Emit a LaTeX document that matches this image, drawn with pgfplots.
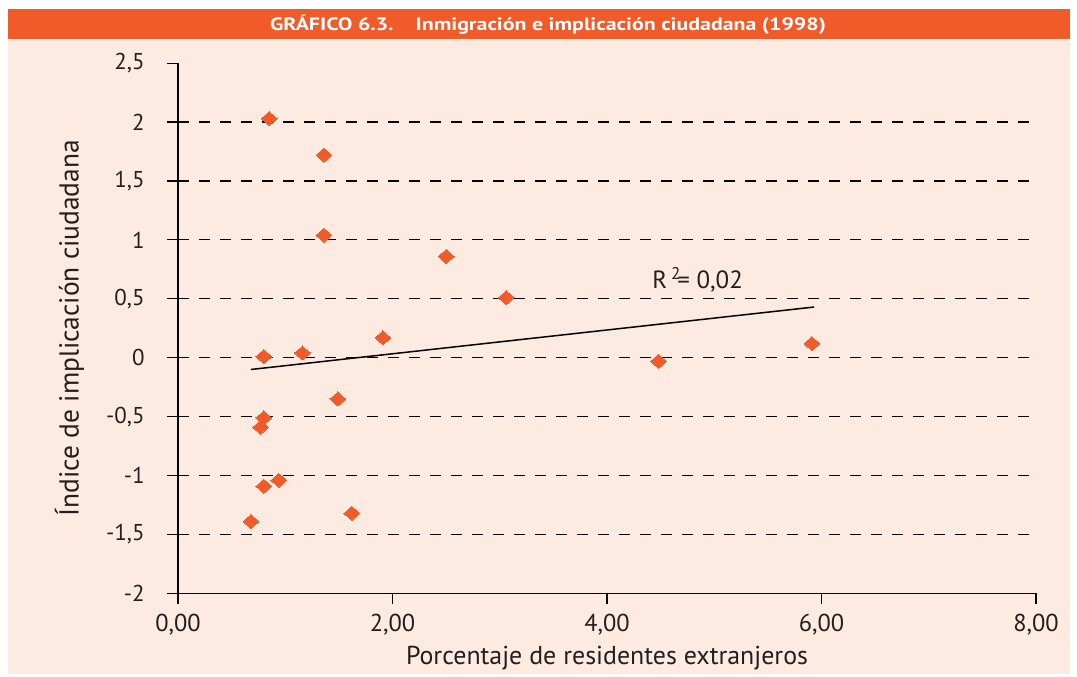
\documentclass[border=0pt]{standalone}
\usepackage{fontspec}
\setmainfont{PT Sans}
\newfontfamily\titlefont[FakeStretch=1.22]{PT Sans}
\usepackage{pgfplots}
\pgfplotsset{compat=1.18}
\definecolor{bgpeach}{HTML}{FDEBE1}
\definecolor{orangeC}{HTML}{F15A29}
\definecolor{txt}{HTML}{231F20}
\begin{document}
\begin{tikzpicture}[x=1bp,y=1bp]
\fill[white] (0,0) rectangle (1077,677);
\fill[bgpeach] (8,3) rectangle (1070,638);
\fill[orangeC] (8,638) rectangle (1070,668);
\node[white, font=\titlefont\fontsize{18}{22}\selectfont\bfseries] at (548,652) {GRÁFICO 6.3.\hspace{22bp}Inmigración e implicación ciudadana (1998)};
\begin{axis}[
  at={(166,71)}, anchor=south west,
  scale only axis, width=858bp, height=530.2bp,
  xmin=0, xmax=8, ymin=-2, ymax=2.5,
  axis x line*=bottom, axis y line*=left,
  axis line style={-, black, line width=1.3bp},
  xtick={0,2,4,6,8},
  xticklabels={{0,00},{2,00},{4,00},{6,00},{8,00}},
  ytick={-2,-1.5,-1,-0.5,0,0.5,1,1.5,2},
  yticklabels={-2,{-1,5},-1,{-0,5},0,{0,5},1,{1,5},2},
  extra y ticks={2.5}, extra y tick labels={2{,}5},
  extra y tick style={grid=none},
  ymajorgrids,
  grid style={black, dash pattern=on 11bp off 10bp, line width=1.2bp},
  tick align=outside, major tick length=11bp,
  tick style={black, line width=1.2bp},
  yticklabel style={font=\fontsize{23}{26}\selectfont, text=txt, xshift=-19bp},
  xticklabel style={font=\fontsize{24.5}{27}\selectfont, text=txt, yshift=-6bp},
  xlabel={Porcentaje de residentes extranjeros},
  ylabel={Índice de implicación ciudadana},
  label style={text=txt},
  xlabel style={font=\fontsize{26}{30}\selectfont, at={(axis description cs:0.5,-0.123)}, anchor=center},
  ylabel style={font=\fontsize{27.5}{31}\selectfont, at={(axis description cs:-0.1265,0.5)}, anchor=center},
  clip=false,
]
\addplot[only marks, mark=diamond*, mark size=7bp, mark options={xscale=1.5, fill=orangeC, draw=orangeC, line width=0pt}] coordinates {
(0.85,2.03) (1.36,1.72) (1.36,1.04) (2.50,0.86) (3.06,0.51)
(0.80,0.01) (1.16,0.04) (1.91,0.17) (4.48,-0.03) (5.91,0.12)
(1.49,-0.35) (0.80,-0.51) (0.77,-0.59) (0.80,-1.09) (0.94,-1.04)
(0.68,-1.39) (1.62,-1.32)
};
\addplot[black, line width=1.5bp] coordinates {(0.68,-0.10) (5.93,0.43)};
\node[anchor=base west, inner sep=0pt, text=txt, font=\fontsize{25}{29}\selectfont] at (axis cs:4.42,0.586) {R\kern4bp\raisebox{9bp}{\fontsize{17}{17}\selectfont 2}\kern-3bp= 0,02};
\end{axis}
\end{tikzpicture}
\end{document}
